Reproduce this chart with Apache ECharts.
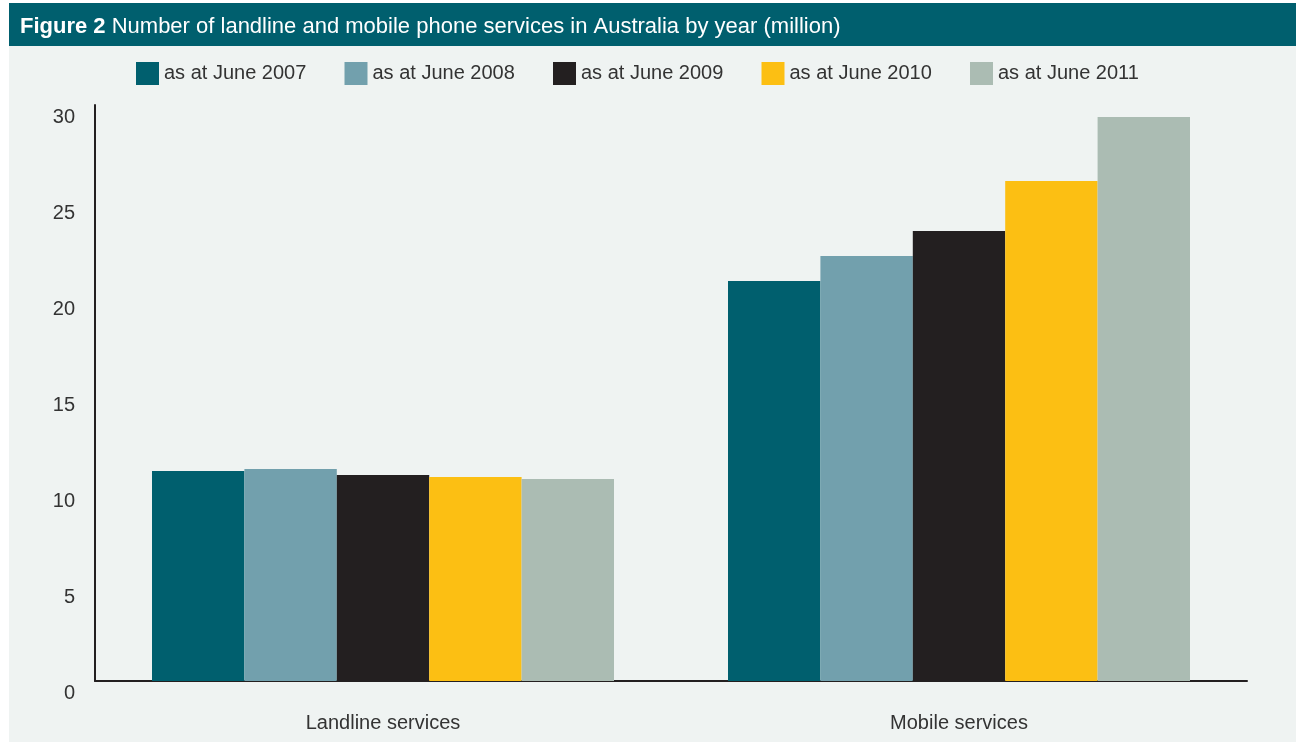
<!DOCTYPE html>
<html><head><meta charset="utf-8">
<script src="https://cdn.jsdelivr.net/npm/echarts@6/dist/echarts.min.js"></script>
<style>html,body{margin:0;padding:0;background:#fff;}#c{width:1296px;height:742px;}</style>
</head><body><div id="c"></div>
<script>
const categories = ['Landline services', 'Mobile services'];
const seriesNames = ['as at June 2007', 'as at June 2008', 'as at June 2009', 'as at June 2010', 'as at June 2011'];
const june2007 = [10.94, 20.83];
const june2008 = [11.04, 22.14];
const june2009 = [10.73, 23.44];
const june2010 = [10.63, 26.04];
const june2011 = [10.52, 29.38];
const seriesValues = [june2007, june2008, june2009, june2010, june2011];
const colors = ['#005f6e', '#72a0ad', '#231f20', '#fcbf13', '#abbcb3'];
const FONT = '"Liberation Sans", Arial, sans-serif';

const chart = echarts.init(document.getElementById('c'));
chart.setOption({
  animation: false,
  color: colors,
  graphic: [
    { type: 'rect', z: -10, shape: { x: 9, y: 3, width: 1287, height: 43 }, style: { fill: '#005f6e' } },
    { type: 'rect', z: -10, shape: { x: 9, y: 46, width: 1287, height: 696 }, style: { fill: '#eff3f2' } },
    { type: 'text', left: 20, top: 16, style: {
        text: '{b|Figure 2} Number of landline and mobile phone services in Australia by year (million)',
        fill: '#fff', font: '22px ' + FONT,
        rich: { b: { fontWeight: 'bold', fontSize: 22, fontFamily: FONT, fill: '#fff' } }
    } }
  ],
  legend: seriesNames.map((n, i) => ({
    left: 136 + 208.5 * i, top: 62, padding: 0,
    itemWidth: 23, itemHeight: 23,
    icon: 'rect',
    textStyle: { fontFamily: FONT, fontSize: 20, color: '#333' },
    data: [n]
  })),
  grid: { left: 95, right: 49, top: 105, bottom: 61 },
  xAxis: {
    type: 'category', data: categories,
    axisLine: { lineStyle: { color: '#231f20', width: 2 } },
    axisTick: { show: false },
    axisLabel: { fontFamily: FONT, fontSize: 20, color: '#333', margin: 32 }
  },
  yAxis: {
    type: 'value', min: 0, max: 30, interval: 5,
    axisLine: { show: true, lineStyle: { color: '#231f20', width: 2 } },
    axisTick: { show: false },
    splitLine: { show: false },
    axisLabel: { fontFamily: FONT, fontSize: 20, color: '#333', margin: 20, verticalAlign: 'top', lineHeight: 24 }
  },
  series: seriesNames.map((n, i) => ({
    name: n, type: 'bar', data: seriesValues[i],
    barWidth: 92.4, barGap: '0%', barCategoryGap: '20%',
    itemStyle: { color: colors[i] }
  }))
});
</script></body></html>
